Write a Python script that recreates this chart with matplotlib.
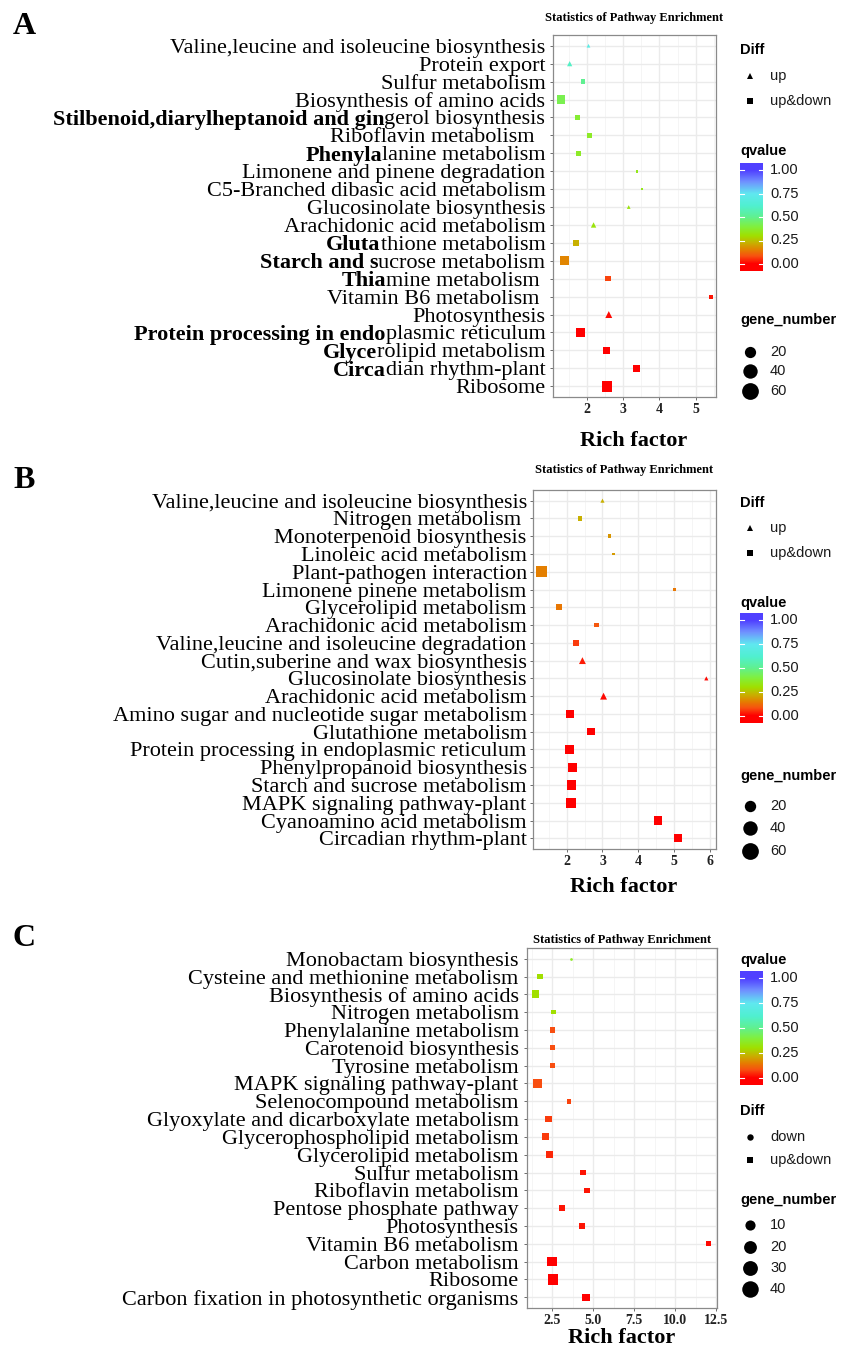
import numpy as np
import matplotlib
matplotlib.use("Agg")
import matplotlib.pyplot as plt
from matplotlib.colors import LinearSegmentedColormap, Normalize

# ---------------- data (terms listed top -> bottom) ----------------
a_terms = ["Valine,leucine and isoleucine biosynthesis", "Protein export", "Sulfur metabolism",
           "Biosynthesis of amino acids", "Stilbenoid,diarylheptanoid and gingerol biosynthesis",
           "Riboflavin metabolism  ", "Phenylalanine metabolism", "Limonene and pinene degradation",
           "C5-Branched dibasic acid metabolism", "Glucosinolate biosynthesis",
           "Arachidonic acid metabolism", "Glutathione metabolism", "Starch and sucrose metabolism",
           "Thiamine metabolism ", "Vitamin B6 metabolism ", "Photosynthesis",
           "Protein processing in endoplasmic reticulum", "Glycerolipid metabolism",
           "Circadian rhythm-plant", "Ribosome"]
a_bold = ["", "", "", "", "Stilbenoid,diarylheptanoid and gin", "", "Phenyla", "", "", "", "",
          "Gluta", "Starch and s", "Thia", "", "", "Protein processing in endo", "Glyce", "Circa", ""]
a_rich = [2.04, 1.52, 1.89, 1.27, 1.74, 2.07, 1.77, 3.38, 3.52, 3.15,
          2.18, 1.69, 1.37, 2.58, 5.42, 2.60, 1.82, 2.54, 3.37, 2.55]
a_q = [0.70, 0.60, 0.50, 0.42, 0.38, 0.36, 0.36, 0.34, 0.34, 0.32,
       0.32, 0.22, 0.16, 0.07, 0.02, 0.01, 0.0, 0.0, 0.0, 0.0]
a_genes = [3, 8, 5, 31, 9, 5, 6, 2, 2, 3, 9, 9, 40, 8, 3, 19, 40, 24, 22, 62]
a_diff = ["up", "up", "up&down", "up&down", "up&down", "up&down", "up&down", "up&down", "up&down", "up",
          "up", "up&down", "up&down", "up&down", "up&down", "up", "up&down", "up&down", "up&down", "up&down"]

b_terms = ["Valine,leucine and isoleucine biosynthesis", "Nitrogen metabolism ",
           "Monoterpenoid biosynthesis", "Linoleic acid metabolism", "Plant-pathogen interaction",
           "Limonene pinene metabolism", "Glycerolipid metabolism", "Arachidonic acid metabolism",
           "Valine,leucine and isoleucine degradation", "Cutin,suberine and wax biosynthesis",
           "Glucosinolate biosynthesis", "Arachidonic acid metabolism",
           "Amino sugar and nucleotide sugar metabolism", "Glutathione metabolism",
           "Protein processing in endoplasmic reticulum", "Phenylpropanoid biosynthesis",
           "Starch and sucrose metabolism", "MAPK signaling pathway-plant",
           "Cyanoamino acid metabolism", "Circadian rhythm-plant"]
b_rich = [3.00, 2.38, 3.20, 3.30, 1.29, 5.02, 1.78, 2.83, 2.26, 2.44,
          5.90, 3.03, 2.09, 2.68, 2.08, 2.16, 2.13, 2.11, 4.55, 5.11]
b_q = [0.22, 0.22, 0.18, 0.19, 0.15, 0.14, 0.14, 0.09, 0.06, 0.03,
       0.01, 0.01, 0.0, 0.0, 0.0, 0.0, 0.0, 0.0, 0.0, 0.0]
b_genes = [3, 3, 2, 1, 62, 1, 13, 4, 13, 18, 3, 18, 28, 21, 43, 34, 43, 53, 31, 31]
b_diff = ["up", "up&down", "up&down", "up&down", "up&down", "up&down", "up&down", "up&down", "up&down", "up",
          "up", "up", "up&down", "up&down", "up&down", "up&down", "up&down", "up&down", "up&down", "up&down"]

c_terms = ["Monobactam biosynthesis", "Cysteine and methionine metabolism", "Biosynthesis of amino acids",
           "Nitrogen metabolism", "Phenylalanine metabolism", "Carotenoid biosynthesis",
           "Tyrosine metabolism", "MAPK signaling pathway-plant", "Selenocompound metabolism",
           "Glyoxylate and dicarboxylate metabolism", "Glycerophospholipid metabolism",
           "Glycerolipid metabolism", "Sulfur metabolism", "Riboflavin metabolism",
           "Pentose phosphate pathway", "Photosynthesis", "Vitamin B6 metabolism",
           "Carbon metabolism", "Ribosome", "Carbon fixation in photosynthetic organisms"]
c_rich = [3.65, 1.75, 1.49, 2.58, 2.54, 2.50, 2.50, 1.59, 3.53, 2.28,
          2.09, 2.34, 4.38, 4.62, 3.08, 4.32, 12.04, 2.48, 2.56, 4.56]
c_q = [0.36, 0.30, 0.30, 0.30, 0.08, 0.08, 0.08, 0.08, 0.07, 0.06,
       0.06, 0.04, 0.02, 0.02, 0.02, 0.02, 0.01, 0.0, 0.0, 0.0]
c_genes = [1, 8, 19, 3, 5, 5, 5, 30, 4, 9, 13, 13, 5, 6, 9, 9, 4, 33, 43, 17]
c_diff = ["down"] + ["up&down"] * 19

# ---------------- styling ----------------
W, H = 852, 1358
SERIF = "Liberation Serif"
SANS = "Liberation Sans"
LABEL_FS = 16
fig = plt.figure(figsize=(W / 100, H / 100), dpi=100)

q_cmap = LinearSegmentedColormap.from_list("q", [
    (0.00, "#FF0000"), (0.08, "#F85010"), (0.15, "#E48000"), (0.22, "#C8B000"),
    (0.30, "#A0E000"), (0.40, "#80F040"), (0.50, "#60F090"), (0.62, "#50F0D0"),
    (0.75, "#60E8F0"), (0.88, "#7090FF"), (1.00, "#5040FF")])
norm = Normalize(0, 1)
MARK = {"up": "^", "up&down": "s", "down": "o"}


def box(l, t, r, b):
    return [l / W, 1 - b / H, (r - l) / W, (b - t) / H]


def side_px(g, lo, hi):
    return 2.7 + 7.9 * np.sqrt(np.clip((np.asarray(g, float) - lo) / (hi - lo), 0, None))


lax = fig.add_axes([0, 0, 1, 1], zorder=5)
lax.set_xlim(0, W)
lax.set_ylim(H, 0)
lax.axis("off")


def panel(frame, terms, bold, rich, q, genes, diff, xticks, xlabels, xlim, minor, lab_pad):
    ax = fig.add_axes(box(*frame))
    n = len(terms)
    y = n - 1 - np.arange(n)
    rich = np.array(rich)
    q = np.array(q)
    lo, hi = min(genes), max(genes)
    sizes = (side_px(genes, lo, hi) * 0.72) ** 2
    diff = np.array(diff)
    for d in dict.fromkeys(diff):
        m = diff == d
        ax.scatter(rich[m], y[m], s=sizes[m], c=q[m], cmap=q_cmap, norm=norm,
                   marker=MARK[d], linewidths=0, zorder=3)
    ax.set_xlim(*xlim)
    ax.set_ylim(-0.6, n - 0.4)
    ax.set_xticks(xticks)
    ax.set_xticklabels(xlabels, fontfamily=SERIF, fontweight="bold", fontsize=10, color="#222222")
    ax.set_xticks(minor, minor=True)
    ax.set_yticks(y)
    ax.set_yticklabels([])
    ax.grid(True, which="major", color="#EBEBEB", lw=1.0, zorder=0)
    ax.grid(True, which="minor", axis="x", color="#F4F4F4", lw=0.6, zorder=0)
    ax.tick_params(which="major", length=2.2, width=0.6, color="#555555", pad=2)
    ax.tick_params(which="minor", length=0)
    for s in ax.spines.values():
        s.set_color("#8A8A8A")
        s.set_linewidth(0.9)
    ax.set_axisbelow(True)
    # category labels, some with a bold leading part
    renderer = fig.canvas.get_renderer()
    for yi, t, bp in zip(y, terms, bold):
        rest = t[len(bp):]
        txt = ax.annotate(rest, xy=(0, yi), xycoords=("axes fraction", "data"),
                          xytext=(-lab_pad, 0), textcoords="offset points",
                          ha="right", va="center_baseline", fontfamily=SERIF, fontsize=LABEL_FS)
        if bp:
            wpt = txt.get_window_extent(renderer).width * 72 / fig.dpi
            ax.annotate(bp, xy=(0, yi), xycoords=("axes fraction", "data"),
                        xytext=(-lab_pad - wpt, 0), textcoords="offset points",
                        ha="right", va="center_baseline", fontfamily=SERIF,
                        fontsize=LABEL_FS, fontweight="bold")
    return ax, lo, hi


def legends(diff_y, diff_keys, q_y, lab1, lab0, gene_y, breaks, lo, hi):
    mx, tx = 750, 770
    lax.text(740, diff_y[0], "Diff", fontfamily=SANS, fontweight="bold", fontsize=10.5, va="center")
    for k, yy in zip(diff_keys, diff_y[1:]):
        lax.plot(mx, yy, marker=MARK[k], color="black", ms=4.6, mew=0)
        lax.text(tx, yy, k, fontfamily=SANS, fontsize=10.5, va="center", color="#1A1A1A")
    lax.text(740, q_y, "qvalue", fontfamily=SANS, fontweight="bold", fontsize=10.5, va="center")
    span = lab0 - lab1
    top, bot = lab1 - 7, lab0 + 7
    vtop = 1 + 7 / span
    vbot = -7 / span
    grad = np.linspace(vtop, vbot, 200).reshape(-1, 1)
    lax.imshow(grad, cmap=q_cmap, norm=norm, extent=(740, 763, bot, top), aspect="auto", zorder=1)
    for v in [0, 0.25, 0.5, 0.75, 1.0]:
        yy = lab0 - v * span
        lax.plot([740, 744], [yy, yy], color="white", lw=0.8, zorder=2)
        lax.plot([759, 763], [yy, yy], color="white", lw=0.8, zorder=2)
        lax.text(tx, yy, f"{v:.2f}", fontfamily=SANS, fontsize=10.5, va="center", color="#1A1A1A")
    lax.text(740, gene_y[0], "gene_number", fontfamily=SANS, fontweight="bold", fontsize=10.5, va="center")
    for b, yy in zip(breaks, gene_y[1:]):
        d = side_px(b, lo, hi) * 1.6
        lax.plot(mx, yy, marker="o", color="black", ms=d * 0.72, mew=0)
        lax.text(tx, yy, str(b), fontfamily=SANS, fontsize=10.5, va="center", color="#1A1A1A")


def decorate(letter, ly, title_y, axcx, xlab_y):
    lax.text(13, ly, letter, fontfamily=SERIF, fontweight="bold", fontsize=23, va="center")
    lax.text(axcx, title_y, "Statistics of Pathway Enrichment", fontfamily=SERIF,
             fontweight="bold", fontsize=9, ha="center", va="center")
    lax.text(axcx, xlab_y, "Rich factor", fontfamily=SERIF, fontweight="bold",
             fontsize=16, ha="center", va="center")


# ---------------- panel A ----------------
ax, lo, hi = panel((553, 35, 716, 397), a_terms, a_bold, a_rich, a_q, a_genes, a_diff,
                   [2, 3, 4, 5], ["2", "3", "4", "5"], (1.06, 5.56), np.arange(1.5, 5.6, 1), 5.5)
legends([50, 76, 101], ["up", "up&down"], 151, 170, 264, [320, 352, 371, 391], [20, 40, 60], lo, hi)
decorate("A", 27, 18, 634, 441)

# ---------------- panel B ----------------
ax, lo, hi = panel((533, 490, 716, 849), b_terms, [""] * 20, b_rich, b_q, b_genes, b_diff,
                   [2, 3, 4, 5, 6], ["2", "3", "4", "5", "6"], (1.06, 6.17), np.arange(1.5, 6.1, 1), 4.5)
legends([503, 528, 553], ["up", "up&down"], 603, 620, 716, [776, 806, 828, 851], [20, 40, 60], lo, hi)
decorate("B", 481, 470, 624, 887)

# ---------------- panel C ----------------
ax, lo, hi = panel((527, 948, 717, 1308), c_terms, [""] * 20, c_rich, c_q, c_genes, c_diff,
                   [2.5, 5.0, 7.5, 10.0, 12.5], ["2.5", "5.0", "7.5", "10.0", "12.5"],
                   (0.97, 12.55), np.arange(1.25, 12.6, 2.5), 6)
legends([1111, 1137, 1160], ["down", "up&down"], 960, 978, 1078,
        [1200, 1225, 1247, 1268, 1289], [10, 20, 30, 40], lo, hi)
decorate("C", 938, 940, 622, 1338)

fig.savefig("out.png", dpi=100)
